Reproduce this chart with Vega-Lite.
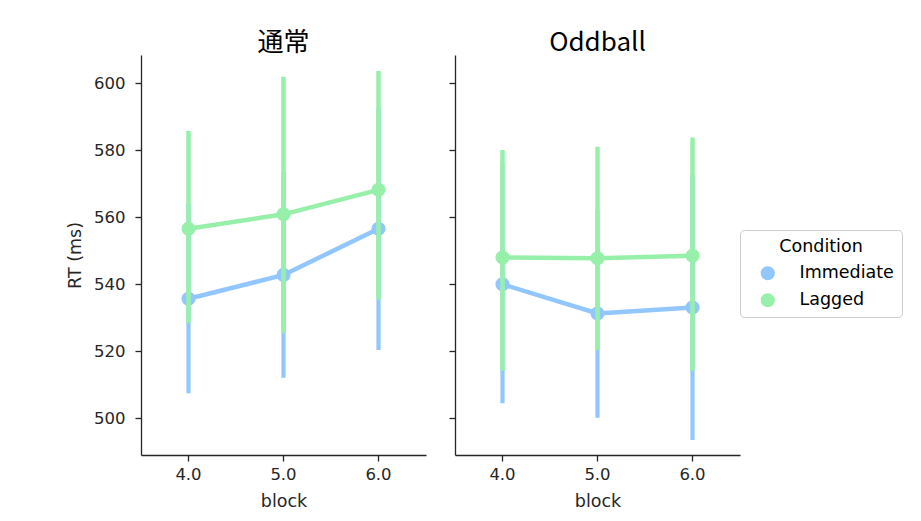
{
  "$schema": "https://vega.github.io/schema/vega-lite/v6.json",
  "background": "white",
  "padding": {"left": 66, "top": 30, "right": 10, "bottom": 10},
  "data": {"values": [
    {"panel": "通常", "block": "4.0", "Condition": "Immediate", "mean": 535.7, "lo": 507.5, "hi": 564.0},
    {"panel": "通常", "block": "5.0", "Condition": "Immediate", "mean": 542.8, "lo": 512.1, "hi": 573.5},
    {"panel": "通常", "block": "6.0", "Condition": "Immediate", "mean": 556.6, "lo": 520.4, "hi": 592.8},
    {"panel": "通常", "block": "4.0", "Condition": "Lagged", "mean": 556.6, "lo": 528.4, "hi": 585.8},
    {"panel": "通常", "block": "5.0", "Condition": "Lagged", "mean": 560.9, "lo": 525.4, "hi": 602.0},
    {"panel": "通常", "block": "6.0", "Condition": "Lagged", "mean": 568.2, "lo": 535.5, "hi": 603.7},
    {"panel": "Oddball", "block": "4.0", "Condition": "Immediate", "mean": 540.0, "lo": 504.5, "hi": 575.5},
    {"panel": "Oddball", "block": "5.0", "Condition": "Immediate", "mean": 531.3, "lo": 500.2, "hi": 562.4},
    {"panel": "Oddball", "block": "6.0", "Condition": "Immediate", "mean": 533.1, "lo": 493.5, "hi": 572.7},
    {"panel": "Oddball", "block": "4.0", "Condition": "Lagged", "mean": 548.0, "lo": 514.2, "hi": 580.1},
    {"panel": "Oddball", "block": "5.0", "Condition": "Lagged", "mean": 547.8, "lo": 520.4, "hi": 581.1},
    {"panel": "Oddball", "block": "6.0", "Condition": "Lagged", "mean": 548.5, "lo": 514.2, "hi": 583.8}
  ]},
  "bounds": "flush",
  "spacing": 29,
  "hconcat": [
    {
      "width": 285, "height": 400,
      "title": {"text": "通常"},
      "transform": [{"filter": "datum.panel === '通常'"}],
      "encoding": {
        "x": {"field": "block", "type": "ordinal", "title": "block", "axis": {"labelAngle": 0}},
        "color": {"field": "Condition", "type": "nominal", "title": "Condition",
          "scale": {"domain": ["Immediate", "Lagged"], "range": ["#92C6FF", "#97F0AA"]},
          "legend": {"orient": "none", "legendX": 599, "legendY": 175}}
      },
      "layer": [
        {"transform": [{"filter": "datum.Condition === 'Immediate'"}],
         "layer": [
          {"mark": {"type": "rule", "strokeWidth": 4.2},
           "encoding": {"y": {"field": "lo", "type": "quantitative", "title": "RT (ms)", "scale": {"domain": [489.05, 608.46], "nice": false, "zero": false}, "axis": {"values": [500, 520, 540, 560, 580, 600], "labelPadding": 10, "titlePadding": 9}}, "y2": {"field": "hi"}}},
          {"mark": {"type": "line", "strokeWidth": 4.5},
           "encoding": {"y": {"field": "mean", "type": "quantitative", "title": "RT (ms)"}}},
          {"mark": {"type": "point", "filled": true, "size": 200, "opacity": 1},
           "encoding": {"y": {"field": "mean", "type": "quantitative", "title": "RT (ms)"}}}
         ]},
        {"transform": [{"filter": "datum.Condition === 'Lagged'"}],
         "layer": [
          {"mark": {"type": "rule", "strokeWidth": 4.5},
           "encoding": {"y": {"field": "lo", "type": "quantitative", "title": "RT (ms)"}, "y2": {"field": "hi"}}},
          {"mark": {"type": "line", "strokeWidth": 4.5},
           "encoding": {"y": {"field": "mean", "type": "quantitative", "title": "RT (ms)"}}},
          {"mark": {"type": "point", "filled": true, "size": 200, "opacity": 1},
           "encoding": {"y": {"field": "mean", "type": "quantitative", "title": "RT (ms)"}}}
         ]}
      ]
    },
    {
      "width": 285, "height": 400,
      "title": {"text": "Oddball"},
      "transform": [{"filter": "datum.panel === 'Oddball'"}],
      "encoding": {
        "x": {"field": "block", "type": "ordinal", "title": "block", "axis": {"labelAngle": 0}},
        "color": {"field": "Condition", "type": "nominal", "title": "Condition",
          "scale": {"domain": ["Immediate", "Lagged"], "range": ["#92C6FF", "#97F0AA"]},
          "legend": {"orient": "none", "legendX": 599, "legendY": 175}}
      },
      "layer": [
        {"transform": [{"filter": "datum.Condition === 'Immediate'"}],
         "layer": [
          {"mark": {"type": "rule", "strokeWidth": 4.2},
           "encoding": {"y": {"field": "lo", "type": "quantitative", "title": null, "scale": {"domain": [489.05, 608.46], "nice": false, "zero": false}, "axis": {"values": [500, 520, 540, 560, 580, 600], "labels": false}}, "y2": {"field": "hi"}}},
          {"mark": {"type": "line", "strokeWidth": 4.5},
           "encoding": {"y": {"field": "mean", "type": "quantitative", "title": null}}},
          {"mark": {"type": "point", "filled": true, "size": 200, "opacity": 1},
           "encoding": {"y": {"field": "mean", "type": "quantitative", "title": null}}}
         ]},
        {"transform": [{"filter": "datum.Condition === 'Lagged'"}],
         "layer": [
          {"mark": {"type": "rule", "strokeWidth": 4.5},
           "encoding": {"y": {"field": "lo", "type": "quantitative", "title": null}, "y2": {"field": "hi"}}},
          {"mark": {"type": "line", "strokeWidth": 4.5},
           "encoding": {"y": {"field": "mean", "type": "quantitative", "title": null}}},
          {"mark": {"type": "point", "filled": true, "size": 200, "opacity": 1},
           "encoding": {"y": {"field": "mean", "type": "quantitative", "title": null}}}
         ]}
      ]
    }
  ],
  "config": {
    "view": {"stroke": null},
    "axis": {"grid": false, "domainColor": "#262626", "domainWidth": 1.3, "tickColor": "#262626", "tickWidth": 1.3, "tickSize": 6,
      "labelColor": "#262626", "titleColor": "#262626", "labelFont": "DejaVu Sans", "titleFont": "DejaVu Sans",
      "labelFontSize": 16.5, "titleFontSize": 17.5, "titleFontWeight": "normal", "labelPadding": 5, "titlePadding": 10},
    "title": {"font": "Noto Sans CJK JP", "fontSize": 26, "fontWeight": "normal", "color": "black", "offset": -1},
    "legend": {"titleAnchor": "middle", "titleAlign": "center", "fillColor": "white", "strokeColor": "#cccccc",
      "cornerRadius": 4, "padding": 8, "symbolType": "circle", "symbolSize": 200, "symbolStrokeWidth": 0, "symbolOffset": 11,
      "labelOffset": 23, "labelFont": "DejaVu Sans", "labelFontSize": 17.5, "labelColor": "black", "titleFont": "DejaVu Sans",
      "titleFontSize": 17.5, "titleFontWeight": "normal", "titleColor": "black", "titlePadding": 9, "rowPadding": 8}
  }
}
